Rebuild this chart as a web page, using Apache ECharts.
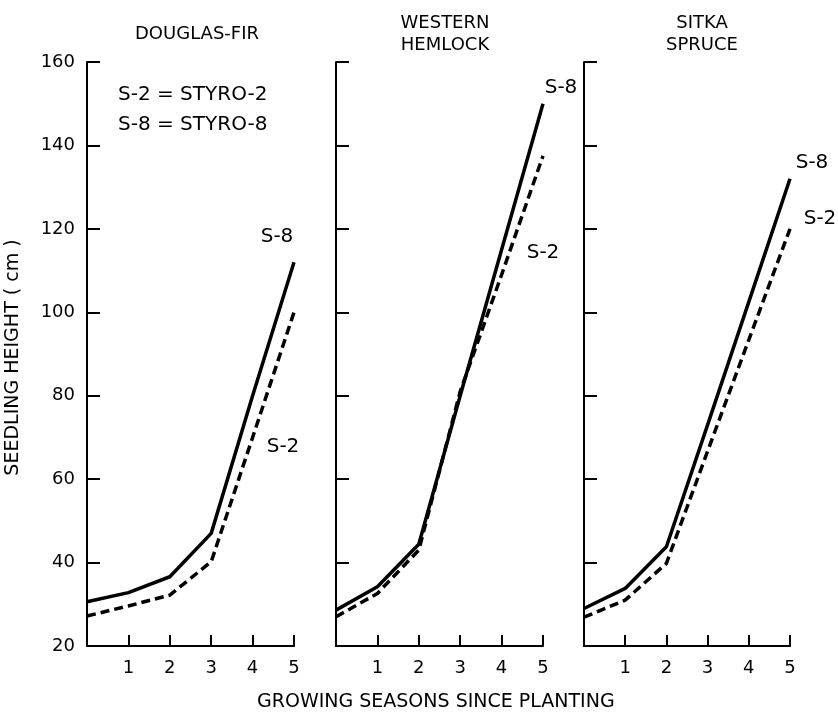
<!DOCTYPE html>
<html><head><meta charset="utf-8">
<script src="https://cdn.jsdelivr.net/npm/echarts@6/dist/echarts.min.js"></script>
<style>html,body{margin:0;padding:0;background:#fff}#c{width:838px;height:715px}</style>
</head><body><div id="c"></div>
<script>
// ---- data ----
const seasons = [0, 1, 2, 3, 4, 5];
const panelTitles = ['DOUGLAS-FIR', 'WESTERN\nHEMLOCK', 'SITKA\nSPRUCE'];
const yTicks = [20, 40, 60, 80, 100, 120, 140, 160];
const xTicks = [1, 2, 3, 4, 5];
const douglasS8 = [30.6, 32.8, 36.6, 47, 80, 112];
const douglasS2 = [27.2, 29.6, 32.2, 40.2, 70, 100];
const hemlockS8 = [28.6, 34.2, 44.4, 80, 115, 150];
const hemlockS2 = [27, 32.6, 43, 81, 109, 137.5];
const sitkaS8 = [29, 33.8, 43.8, 73, 102.5, 132];
const sitkaS2 = [26.9, 31, 39.8, 66.7, 93.4, 120];
const seriesNames = ['S-8', 'S-2'];

const panels = [[douglasS8, douglasS2], [hemlockS8, hemlockS2], [sitkaS8, sitkaS2]];
const labelOffsets = [
  [[-17, -25], [-11, 135]],
  [[18, -16], [0, 97]],
  [[22, -16], [30, -10]]
];
const gridLeft = [87, 336, 584];
const gridWidth = [207, 207, 206];
const FONT = 'DejaVu Sans';

const chart = echarts.init(document.getElementById('c'));
const grids = [], xAxes = [], yAxes = [], series = [], titles = [];
for (let p = 0; p < 3; p++) {
  grids.push({left: gridLeft[p], width: gridWidth[p], top: 62, height: 584});
  xAxes.push({
    type: 'value', gridIndex: p, min: 0, max: 5, interval: 1,
    axisLine: {show: true, onZero: false, lineStyle: {color: '#000', width: 2}},
    axisTick: {show: true, inside: true, length: 11, lineStyle: {color: '#000', width: 2}},
    axisLabel: {color: '#000', fontFamily: FONT, fontSize: 18, margin: 13,
      formatter: v => xTicks.includes(v) ? String(v) : ''},
    splitLine: {show: false}
  });
  yAxes.push({
    type: 'value', gridIndex: p, min: yTicks[0], max: yTicks[yTicks.length - 1], interval: 20,
    axisLine: {show: true, onZero: false, lineStyle: {color: '#000', width: 2}},
    axisTick: {show: true, inside: true, length: 13, lineStyle: {color: '#000', width: 2}},
    axisLabel: {show: p === 0, color: '#000', fontFamily: FONT, fontSize: 18, margin: 12},
    splitLine: {show: false}
  });
  for (let s = 0; s < 2; s++) {
    const vals = panels[p][s];
    series.push({
      type: 'line', name: seriesNames[s], xAxisIndex: p, yAxisIndex: p,
      data: seasons.map((x, i) => [x, vals[i]]),
      symbol: 'none', silent: true, animation: false,
      lineStyle: {color: '#000', width: 3.5, type: s === 0 ? 'solid' : [9, 5]},
      markPoint: {
        symbol: 'circle', symbolSize: 0, silent: true, animation: false,
        data: [{coord: [seasons[5], vals[5]],
          label: {show: true, formatter: seriesNames[s], color: '#000', fontFamily: FONT,
            fontSize: 20, offset: labelOffsets[p][s]}}]
      }
    });
  }
}
const titleX = [192, 440, 697];
for (let p = 0; p < 3; p++) {
  titles.push({text: panelTitles[p], left: titleX[p], top: p === 0 ? 18 : 7, textAlign: 'center',
    textStyle: {fontFamily: FONT, fontSize: 18, fontWeight: 'normal', color: '#000', lineHeight: 22}});
}
chart.setOption({
  animation: false,
  backgroundColor: '#fff',
  title: titles,
  grid: grids, xAxis: xAxes, yAxis: yAxes, series: series,
  graphic: [
    {type: 'text', left: 118, top: 80, style: {text: 'S-2 = STYRO-2\nS-8 = STYRO-8', fill: '#000',
      font: '20px "DejaVu Sans"', lineHeight: 30}},
    {type: 'text', left: 4, top: 'middle', rotation: Math.PI / 2, style: {text: 'SEEDLING HEIGHT ( cm )', fill: '#000',
      font: '19px "DejaVu Sans"'}},
    {type: 'text', left: 257, top: 693, style: {text: 'GROWING SEASONS SINCE PLANTING', fill: '#000',
      font: '19px "DejaVu Sans"'}}
  ]
});
</script></body></html>
